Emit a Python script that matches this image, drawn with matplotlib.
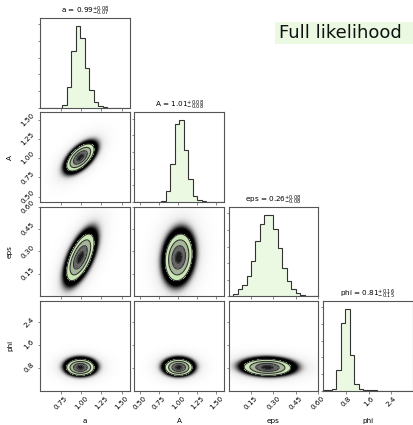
import numpy as np
import matplotlib
matplotlib.use("Agg")
import matplotlib.pyplot as plt
from matplotlib.ticker import FixedLocator, FormatStrFormatter, MaxNLocator
from matplotlib.patches import Rectangle

# ---- parameters ---------------------------------------------------------
labels = ["a", "A", "eps", "phi"]
ranges = [(0.49, 1.60), (0.43, 1.60), (0.0, 0.60), (0.0, np.pi)]
tick_values = [
    [0.75, 1.00, 1.25, 1.50],
    [0.50, 0.75, 1.00, 1.25, 1.50],
    [0.15, 0.30, 0.45, 0.60],
    [0.8, 1.6, 2.4],
]
tick_formats = ["%.2f", "%.2f", "%.2f", "%.1f"]

# posterior sample counts, 20 equal bins across each parameter range
hist_a = [0, 0, 0, 0, 0, 80, 630, 1700, 2450, 2100,
          1200, 530, 170, 40, 10, 0, 0, 0, 0, 0]
hist_A = [0, 0, 0, 0, 0, 0, 30, 320, 1150, 2350,
          2450, 1570, 700, 180, 70, 20, 0, 0, 0, 0]
hist_eps = [10, 60, 210, 330, 610, 1060, 1660, 2180, 2460, 2460,
            2030, 1460, 860, 460, 210, 90, 40, 20, 10, 0]
hist_phi = [10, 20, 60, 630, 2030, 2450, 1080, 200, 50, 20,
            10, 10, 0, 0, 0, 0, 0, 0, 0, 0]

# summary statistics: median and 68% interval
medians = [0.99, 1.01, 0.26, 0.81]
err_plus = [0.08, 0.08, 0.08, 0.16]
err_minus = [0.07, 0.08, 0.08, 0.15]

# widths of the joint densities and pairwise correlations
widths = [0.085, 0.088, 0.078, 0.14]
correlations = {(1, 0): 0.60, (2, 0): 0.62, (2, 1): 0.15,
                (3, 0): 0.0, (3, 1): 0.0, (3, 2): -0.05}

hists = [hist_a, hist_A, hist_eps, hist_phi]

# ---- styling --------------------------------------------------------------
FILL = "#ebf8e2"
LINE = "#333333"
SPINE = "#555555"
FS = 5.2
ring_colors = ["#1c1c1c", "#666666", "#a7b69b", "#cbe7b5"]

fig = plt.figure(figsize=(4.13, 4.25), dpi=100)
W, H = 413.0, 425.0
left0, top0, size, gap = 40.0, 18.0, 89.6, 4.7
n = len(labels)


def panel(i, j):
    x0 = left0 + j * (size + gap)
    y_top = top0 + i * (size + gap)
    return fig.add_axes([x0 / W, 1 - (y_top + size) / H, size / W, size / H])


def style(ax):
    for s in ax.spines.values():
        s.set_color(SPINE)
        s.set_linewidth(0.8)
    ax.tick_params(length=1.8, width=0.5, color=SPINE, labelsize=FS, pad=1.5)


for i in range(n):
    for j in range(n):
        if j > i:
            continue
        ax = panel(i, j)
        style(ax)
        if i == j:
            lo, hi = ranges[i]
            edges = np.linspace(lo, hi, len(hists[i]) + 1)
            counts = np.array(hists[i], dtype=float)
            ax.stairs(counts, edges, fill=True, color=FILL)
            ax.stairs(counts, edges, color=LINE, linewidth=0.8)
            ax.set_xlim(lo, hi)
            ax.set_ylim(0, 1.1 * counts.max())
            ax.yaxis.set_major_locator(MaxNLocator(6))
            ax.set_yticklabels([])
            title = (r"%s = $%.2f^{+%.2f}_{-%.2f}$"
                     % (labels[i], medians[i], err_plus[i], err_minus[i]))
            ax.set_title(title, fontsize=FS, pad=2.5)
        else:
            xlo, xhi = ranges[j]
            ylo, yhi = ranges[i]
            gx = np.linspace(xlo, xhi, 240)
            gy = np.linspace(ylo, yhi, 240)
            X, Y = np.meshgrid(gx, gy)
            u = (X - medians[j]) / widths[j]
            v = (Y - medians[i]) / widths[i]
            rho = correlations[(i, j)]
            r2 = (u * u - 2 * rho * u * v + v * v) / (1 - rho * rho)
            r = np.sqrt(r2)
            # cloud of samples: dense band just outside the contours,
            # thinning into a sparse halo
            d = np.clip(r - 2.2, 0, None)
            core = np.exp(-(d / 0.6) ** 2)
            halo = 0.25 * np.exp(-d / 0.9)
            alpha = np.clip(0.95 * core + halo, 0, 1)
            rgba = np.zeros(X.shape + (4,))
            rgba[..., 3] = alpha
            ax.imshow(rgba, extent=(xlo, xhi, ylo, yhi), origin="lower",
                      aspect="auto", interpolation="bilinear", zorder=1)
            levels = [0.0, 0.25, 1.0, 2.25, 4.0]
            ax.contourf(X, Y, r2, levels=levels, colors=ring_colors, zorder=2)
            ax.contour(X, Y, r2, levels=levels[1:], colors=LINE,
                       linewidths=0.8, zorder=3)
            ax.set_xlim(xlo, xhi)
            ax.set_ylim(ylo, yhi)
            ax.yaxis.set_major_locator(FixedLocator(tick_values[i]))
            ax.yaxis.set_major_formatter(FormatStrFormatter(tick_formats[i]))
            if j == 0:
                for lab in ax.get_yticklabels():
                    lab.set_rotation(45)
                    lab.set_va("center")
                ax.set_ylabel(labels[i], fontsize=FS)
                ax.yaxis.set_label_coords(-0.3, 0.5)
            else:
                ax.set_yticklabels([])
        ax.xaxis.set_major_locator(FixedLocator(tick_values[j]))
        ax.xaxis.set_major_formatter(FormatStrFormatter(tick_formats[j]))
        if i == n - 1:
            for lab in ax.get_xticklabels():
                lab.set_rotation(45)
                lab.set_ha("center")
            ax.set_xlabel(labels[j], fontsize=FS)
            ax.xaxis.set_label_coords(0.5, -0.31)
        else:
            ax.set_xticklabels([])

# annotation box in the empty upper triangle
fig.patches.append(Rectangle((275 / W, 1 - 44 / H), 138 / W, 22 / H,
                             transform=fig.transFigure, facecolor=FILL,
                             edgecolor="none", zorder=0))
fig.text(279 / W, 1 - 38.5 / H, "Full likelihood", fontsize=13,
         ha="left", va="baseline", color="#111111")

fig.savefig("out.png", dpi=100)
